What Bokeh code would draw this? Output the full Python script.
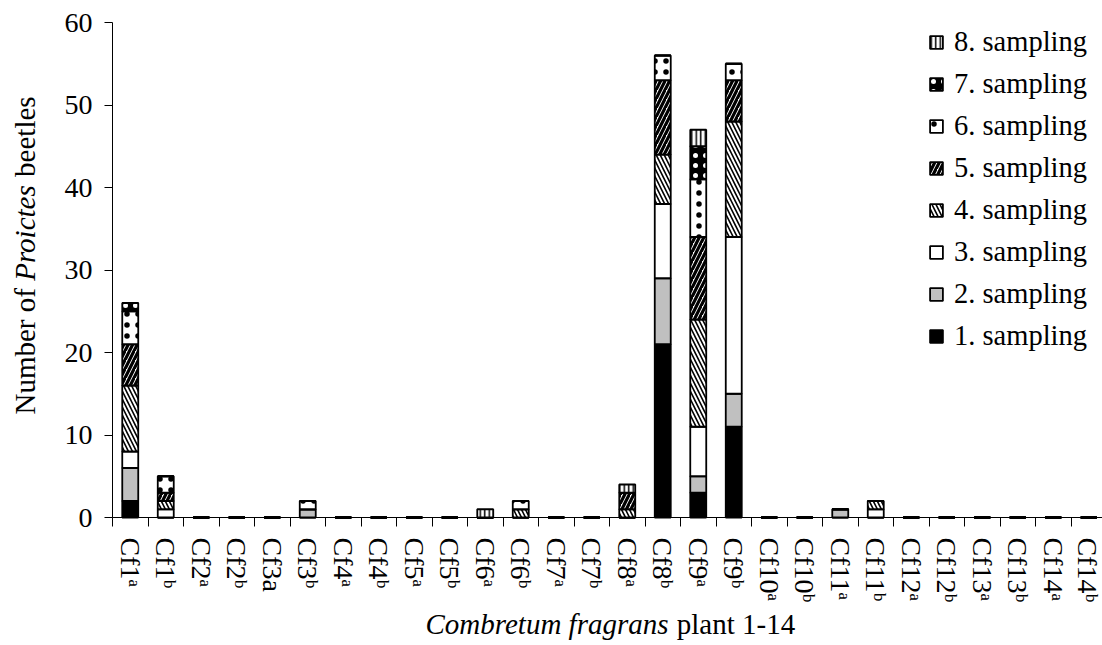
from bokeh.plotting import figure
from bokeh.models import (Range1d, FixedTicker, CustomJSTickFormatter, Legend, LegendItem, Label)
from bokeh.embed import file_html
from bokeh.resources import INLINE

categories = ["Cf1a", "Cf1b", "Cf2a", "Cf2b", "Cf3a", "Cf3b", "Cf4a", "Cf4b", "Cf5a", "Cf5b",
              "Cf6a", "Cf6b", "Cf7a", "Cf7b", "Cf8a", "Cf8b", "Cf9a", "Cf9b", "Cf10a", "Cf10b",
              "Cf11a", "Cf11b", "Cf12a", "Cf12b", "Cf13a", "Cf13b", "Cf14a", "Cf14b"]
tick_labels = ["Cf1ᵃ", "Cf1ᵇ", "Cf2ᵃ", "Cf2ᵇ", "Cf3a", "Cf3ᵇ", "Cf4ᵃ", "Cf4ᵇ", "Cf5ᵃ", "Cf5ᵇ",
               "Cf6ᵃ", "Cf6ᵇ", "Cf7ᵃ", "Cf7ᵇ", "Cf8ᵃ", "Cf8ᵇ", "Cf9ᵃ", "Cf9ᵇ", "Cf10ᵃ", "Cf10ᵇ",
               "Cf11ᵃ", "Cf11ᵇ", "Cf12ᵃ", "Cf12ᵇ", "Cf13ᵃ", "Cf13ᵇ", "Cf14ᵃ", "Cf14ᵇ"]

s1 = [2, 0, 0, 0, 0, 0, 0, 0, 0, 0, 0, 0, 0, 0, 0, 21, 3, 11, 0, 0, 0, 0, 0, 0, 0, 0, 0, 0]
s2 = [4, 0, 0, 0, 0, 1, 0, 0, 0, 0, 0, 0, 0, 0, 0, 8, 2, 4, 0, 0, 1, 0, 0, 0, 0, 0, 0, 0]
s3 = [2, 1, 0, 0, 0, 0, 0, 0, 0, 0, 0, 0, 0, 0, 0, 9, 6, 19, 0, 0, 0, 1, 0, 0, 0, 0, 0, 0]
s4 = [8, 1, 0, 0, 0, 0, 0, 0, 0, 0, 0, 1, 0, 0, 1, 6, 13, 14, 0, 0, 0, 1, 0, 0, 0, 0, 0, 0]
s5 = [5, 1, 0, 0, 0, 0, 0, 0, 0, 0, 0, 0, 0, 0, 2, 9, 10, 5, 0, 0, 0, 0, 0, 0, 0, 0, 0, 0]
s6 = [4, 2, 0, 0, 0, 1, 0, 0, 0, 0, 0, 1, 0, 0, 0, 3, 7, 2, 0, 0, 0, 0, 0, 0, 0, 0, 0, 0]
s7 = [1, 0, 0, 0, 0, 0, 0, 0, 0, 0, 0, 0, 0, 0, 0, 0, 4, 0, 0, 0, 0, 0, 0, 0, 0, 0, 0, 0]
s8 = [0, 0, 0, 0, 0, 0, 0, 0, 0, 0, 1, 0, 0, 0, 1, 0, 2, 0, 0, 0, 0, 0, 0, 0, 0, 0, 0, 0]
series_names = ["1. sampling", "2. sampling", "3. sampling", "4. sampling",
                "5. sampling", "6. sampling", "7. sampling", "8. sampling"]
y_ticks = [0, 10, 20, 30, 40, 50, 60]

FONT = "Liberation Serif"
keys = ["s1", "s2", "s3", "s4", "s5", "s6", "s7", "s8"]
n = len(categories)
data = dict(x=[i + 0.5 for i in range(n)],
            s1=s1, s2=s2, s3=s3, s4=s4, s5=s5, s6=s6, s7=s7, s8=s8)

W, H = 1102, 645
X0, XPU = 112.0, 35.5      # pixel of x=0, pixels per category
Y0, YPU = 517.0, 8.25      # pixel of y=0, pixels per unit

p = figure(width=W, height=H, output_backend="svg", toolbar_location=None, title=None,
           x_range=Range1d(-X0 / XPU, (W - X0) / XPU),
           y_range=Range1d(-(H - Y0) / YPU, Y0 / YPU),
           min_border=0, min_border_left=0, min_border_right=0,
           min_border_top=0, min_border_bottom=0)
p.outline_line_color = None
p.xgrid.visible = False
p.ygrid.visible = False
p.background_fill_color = "white"
p.border_fill_color = "white"

fills = ["black", "#c0c0c0", "white", "white", "white", "white", "black", "white"]
hatches = [" ", " ", " ", "\\", "/", ".", ".", "|"]
hcolors = ["black", "black", "black", "black", "black", "black", "white", "black"]
hscales = [8, 8, 8, 8, 9, 11, 10, 4.5]
hweights = [1, 1, 1, 1.6, 3.2, 1.3, 1.6, 1.5]

renderers = p.vbar_stack(keys, x="x", width=0.45, source=data,
                         fill_color=fills, line_color="black", line_width=1.8,
                         hatch_pattern=hatches, hatch_color=hcolors,
                         hatch_scale=hscales, hatch_weight=hweights)

items = [LegendItem(label=series_names[i], renderers=[renderers[i]]) for i in range(7, -1, -1)]
legend = Legend(items=items, location=(928, 293), border_line_color=None,
                background_fill_alpha=0, padding=4, margin=0,
                label_text_font=FONT, label_text_font_size="28.5px", label_text_color="black",
                glyph_width=16, glyph_height=16, label_height=30, spacing=10,
                label_standoff=10)
p.add_layout(legend)

# axes, fixed inside the frame at the data origin
xa = p.xaxis[0]
xa.fixed_location = 0
xa.bounds = (0, n)
xa.ticker = FixedTicker(ticks=[i + 0.5 for i in range(n)], minor_ticks=list(range(n + 1)))
xa.formatter = CustomJSTickFormatter(args=dict(labels=tick_labels),
                                     code="return labels[Math.floor(tick)] || '';")
xa.major_tick_out = 0
xa.major_tick_in = 0
xa.minor_tick_out = 9
xa.minor_tick_in = 0
xa.minor_tick_line_color = "black"
xa.axis_line_color = "black"
xa.major_label_orientation = "vertical"
xa.major_label_text_font = FONT
xa.major_label_text_font_size = "28px"
xa.major_label_text_color = "black"
xa.major_label_standoff = 11

ya = p.yaxis[0]
ya.fixed_location = 0
ya.bounds = (0, 60)
ya.ticker = FixedTicker(ticks=y_ticks, minor_ticks=[])
ya.major_tick_out = 8
ya.major_tick_in = 0
ya.major_tick_line_color = "black"
ya.axis_line_color = "black"
ya.major_label_text_font = FONT
ya.major_label_text_font_size = "28px"
ya.major_label_text_color = "black"
ya.major_label_standoff = 12

# axis titles with italic parts (screen units from the bottom-left of the canvas)
common = dict(x_units="screen", y_units="screen", text_font=FONT,
              text_font_size="29px", text_color="black")
p.add_layout(Label(x=24, y=H - 414, text="Number of", angle=1.5707963,
                   text_align="left", text_baseline="middle", **common))
p.add_layout(Label(x=24, y=H - 280.3, text="Proictes", angle=1.5707963, text_font_style="italic",
                   text_align="left", text_baseline="middle", **common))
p.add_layout(Label(x=24, y=H - 176.4, text="beetles", angle=1.5707963,
                   text_align="left", text_baseline="middle", **common))
p.add_layout(Label(x=425, y=H - 623, text="Combretum fragrans", text_font_style="italic",
                   text_align="left", text_baseline="alphabetic", **common))
p.add_layout(Label(x=676.3, y=H - 623, text="plant 1-14",
                   text_align="left", text_baseline="alphabetic", **common))

open("out.html", "w").write(file_html(p, INLINE))
